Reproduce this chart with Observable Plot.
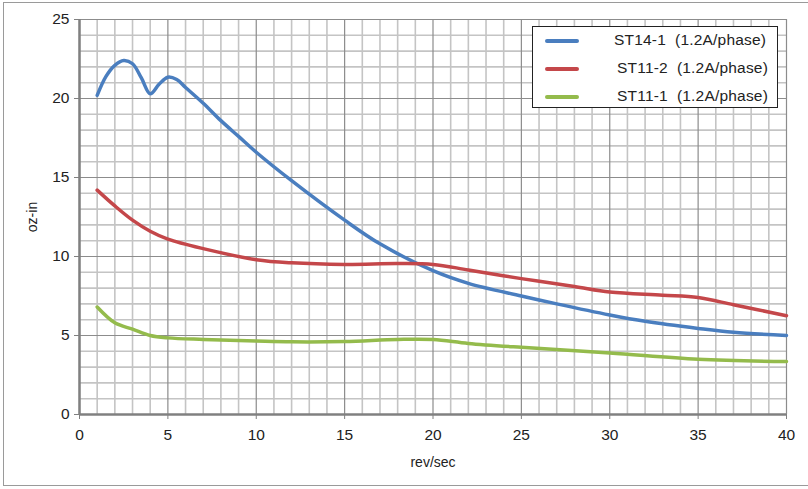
<!DOCTYPE html>
<html>
<head>
<meta charset="utf-8">
<script src="https://cdn.jsdelivr.net/npm/d3@7"></script>
<script src="https://cdn.jsdelivr.net/npm/@observablehq/plot@0.6"></script>
<style>
  html, body { margin: 0; padding: 0; background: #fff; }
  #wrap { position: relative; width: 808px; height: 489px; overflow: hidden; font-family: "Liberation Sans", Arial, sans-serif; }
  #frame { position: absolute; left: 3px; top: 2px; width: 820px; height: 484px; border: 1.5px solid #9a9a9a; box-sizing: border-box; pointer-events: none; }
  #legend { position: absolute; left: 532px; top: 26px; width: 246px; height: 82px; border: 1.5px solid #222; background: #fff; box-sizing: border-box; }
  .item { position: absolute; left: 0; height: 20px; width: 100%; }
  .swatch { position: absolute; left: 12px; top: 9px; width: 34px; height: 3.5px; border-radius: 2px; }
  .lab { position: absolute; left: 82px; top: 0; font-size: 15.5px; letter-spacing: 0.2px; color: #222; white-space: pre; line-height: 20px; }
</style>
</head>
<body>
<div id="wrap">
  <div id="chart"></div>
  <div id="legend"></div>
  <div id="frame"></div>
</div>
<script>
// Series (rev/sec, oz-in)
const seriesNames = ["ST14-1  (1.2A/phase)", "ST11-2  (1.2A/phase)", "ST11-1  (1.2A/phase)"];
const seriesColors = ["#4a7ebf", "#c4474a", "#94bb4c"];

const st14_1 = [
  [1,20.2],[1.5,21.4],[2,22.1],[2.5,22.4],[3,22.2],[3.5,21.3],[4,20.3],[4.5,20.9],[5,21.35],[5.5,21.2],[6,20.7],
  [7,19.7],[8,18.6],[9,17.6],[10,16.6],[12,14.8],[15,12.3],[17,10.8],[20,9.1],[22,8.3],[25,7.5],[27,7.0],
  [30,6.3],[32,5.9],[35,5.45],[37,5.2],[40,5.0]
];
const st11_2 = [
  [1,14.2],[2,13.2],[3,12.3],[4,11.6],[5,11.1],[7,10.5],[10,9.8],[12,9.6],[15,9.5],[18,9.55],[20,9.5],
  [22,9.15],[25,8.6],[28,8.1],[30,7.75],[33,7.55],[35,7.4],[37,6.95],[40,6.25]
];
const st11_1 = [
  [1,6.8],[2,5.8],[3,5.4],[4,5.0],[5,4.85],[7,4.75],[10,4.65],[12,4.6],[15,4.62],[18,4.75],[20,4.75],
  [22,4.5],[25,4.25],[30,3.9],[35,3.5],[40,3.35]
];

const xTicks = [0, 5, 10, 15, 20, 25, 30, 35, 40];
const yTicks = [0, 5, 10, 15, 20, 25];
const xMinor = d3.range(0, 41, 1);
const yMinor = d3.range(0, 26, 1);

const rows = [];
[st14_1, st11_2, st11_1].forEach((s, i) => s.forEach(([x, y]) => rows.push({series: seriesNames[i], x, y})));

const chart = Plot.plot({
  width: 808,
  height: 489,
  marginLeft: 79,
  marginRight: 22,
  marginTop: 19,
  marginBottom: 75,
  style: { fontFamily: "Liberation Sans, Arial, sans-serif", fontSize: "15px", color: "#222", background: "transparent" },
  x: { domain: [0, 40] },
  y: { domain: [0, 25] },
  color: { domain: seriesNames, range: seriesColors },
  marks: [
    Plot.ruleX(xMinor.filter(d => d % 5 !== 0), { stroke: "#c4c4c4", strokeWidth: 1.6 }),
    Plot.ruleY(yMinor.filter(d => d % 5 !== 0), { stroke: "#c4c4c4", strokeWidth: 1.6 }),
    Plot.ruleX(xTicks, { stroke: "#8c8c8c", strokeWidth: 1.2 }),
    Plot.ruleY(yTicks, { stroke: "#8c8c8c", strokeWidth: 1.2 }),
    Plot.line(rows, { x: "x", y: "y", z: "series", stroke: "series", strokeWidth: 3.5, curve: "catmull-rom" }),
    Plot.ruleY([0], { stroke: "#808080", strokeWidth: 2.5 }),
    Plot.ruleX([0], { stroke: "#808080", strokeWidth: 2.5 }),
    Plot.axisX({ ticks: xTicks, tickSize: 5, tickPadding: 9, stroke: "#808080", label: null, fontSize: 15.5 }),
    Plot.axisY({ ticks: yTicks, tickSize: 5, tickPadding: 5, stroke: "#808080", label: null, fontSize: 15.5 }),
    Plot.axisX({ ticks: [], tickSize: 0, label: "rev/sec", labelAnchor: "center", labelArrow: "none", labelOffset: 52, fontSize: 14 }),
    Plot.axisY({ ticks: [], tickSize: 0, label: "oz-in", labelAnchor: "center", labelArrow: "none", labelOffset: 52, fontSize: 14 })
  ]
});
document.getElementById("chart").appendChild(chart);

// Legend
const legend = document.getElementById("legend");
seriesNames.forEach((name, i) => {
  const item = document.createElement("div");
  item.className = "item";
  item.style.top = (3 + i * 28) + "px";
  const sw = document.createElement("div");
  sw.className = "swatch";
  sw.style.background = seriesColors[i];
  const lab = document.createElement("div");
  lab.className = "lab";
  lab.style.left = (i === 0 ? 81 : 84) + "px";
  lab.textContent = name;
  item.appendChild(sw);
  item.appendChild(lab);
  legend.appendChild(item);
});
</script>
</body>
</html>
